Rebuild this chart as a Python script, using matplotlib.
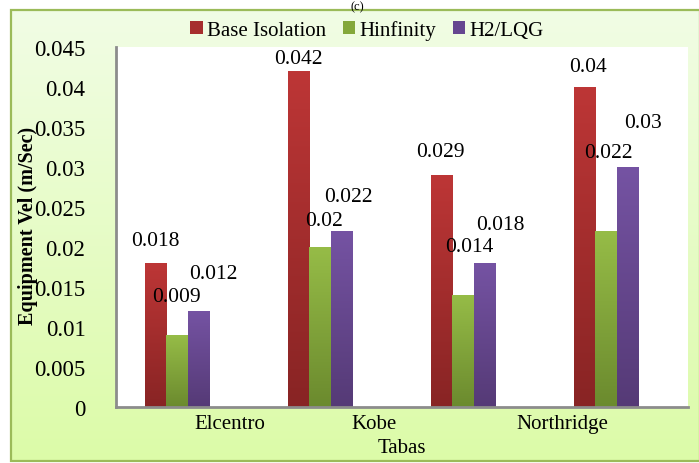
import numpy as np
import matplotlib
matplotlib.use("Agg")
import matplotlib.pyplot as plt
from matplotlib.patches import Patch, Rectangle
from matplotlib.colors import LinearSegmentedColormap

# ---- data ----
categories = ["Elcentro", "Kobe", "Tabas", "Northridge"]
series_names = ["Base Isolation", "Hinfinity", "H2/LQG"]
base_isolation = [0.018, 0.042, 0.029, 0.04]
hinfinity = [0.009, 0.02, 0.014, 0.022]
h2_lqg = [0.012, 0.022, 0.018, 0.03]
y_ticks = [0, 0.005, 0.01, 0.015, 0.02, 0.025, 0.03, 0.035, 0.04, 0.045]
y_tick_labels = ["0", "0.005", "0.01", "0.015", "0.02", "0.025", "0.03", "0.035", "0.04", "0.045"]

# ---- styles / positions ----
top_colors = ["#bd3636", "#96bc47", "#7553a3"]
bot_colors = ["#882424", "#6b8a2e", "#553a76"]
legend_colors = ["#a62e2e", "#84a83b", "#654690"]
# value-label offsets (pixels) relative to bar top center, per category per series
label_offsets = [
    [(0, 22), (0, 39), (15, 37)],
    [(0, 12), (4, 26), (7, 35)],
    [(-1, 23), (6, 48), (16, 39)],
    [(3, 21), (3, 78), (16, 45)],
]
cat_label_x = [0.297, 1.304, 1.50, 2.619]
cat_label_dy = [-17, -17, -41, -17]

plt.rcParams['font.family'] = ['Liberation Serif', 'DejaVu Serif']

W, H = 699, 464
fig = plt.figure(figsize=(W / 100, H / 100), dpi=100)
fig.patch.set_facecolor("white")

# background panel with gradient
bg = fig.add_axes([0, 0, 1, 1], zorder=-5)
bg.set_xlim(0, W)
bg.set_ylim(H, 0)
bg.axis("off")
bg_cmap = LinearSegmentedColormap.from_list("bg", ["#f1fde5", "#dcfba8"])
grad = np.linspace(0, 1, 256).reshape(-1, 1)
bg.imshow(grad, cmap=bg_cmap, extent=[11, W, H - 2, 11], aspect="auto", zorder=0)
bg.add_patch(Rectangle((11, 11), W - 10, H - 13, fill=False, edgecolor="#9bbb59", linewidth=1.6, zorder=2))
fig.text(357 / W, 1 - 1 / H, "(c)", ha="center", va="top", fontsize=9)

ax = fig.add_axes([116 / W, 1 - 408 / H, (688 - 116) / W, (408 - 48) / H])
ax.set_facecolor("white")

x = np.arange(len(categories))
w = 0.149
series = [base_isolation, hinfinity, h2_lqg]
offsets = [-1.5, -0.5, 0.5]
for si, vals in enumerate(series):
    cmap = LinearSegmentedColormap.from_list("c%d" % si, [bot_colors[si], top_colors[si]])
    bars = ax.bar(x + offsets[si] * w, vals, width=w, color=top_colors[si], linewidth=0, zorder=2)
    for ci, b in enumerate(bars):
        x0 = b.get_x()
        h = b.get_height()
        ax.imshow(grad, cmap=cmap, extent=[x0, x0 + w, 0, h], origin="lower",
                  aspect="auto", zorder=3)
        dx, dy = label_offsets[ci][si]
        ax.annotate(str(vals[ci]), xy=(x0 + w / 2, h), xytext=(dx, dy),
                    textcoords="offset pixels", ha="center", va="center",
                    fontsize=15.5, zorder=5)

ax.set_xlim(-0.5, len(categories) - 0.5)
ax.set_ylim(0, 0.045)
ax.set_yticks(y_ticks)
ax.set_yticklabels(y_tick_labels, fontsize=16.5)
ax.tick_params(axis="y", length=0, pad=22)
ax.set_xticks([])
for s in ["top", "right"]:
    ax.spines[s].set_visible(False)
for s in ["left", "bottom"]:
    ax.spines[s].set_color("#8c8c8c")
    ax.spines[s].set_linewidth(2)
    ax.spines[s].set_zorder(6)

for ci, cat in enumerate(categories):
    ax.annotate(cat, xy=(cat_label_x[ci], 0), xytext=(0, cat_label_dy[ci]),
                textcoords="offset pixels", ha="center", va="center",
                fontsize=15, annotation_clip=False)

fig.text(28 / W, 1 - 226 / H, "Equipment Vel (m/Sec)", rotation=90, ha="center",
         va="center", fontsize=14.5, fontweight="bold")

handles = [Patch(facecolor=c, edgecolor="none") for c in legend_colors]
fig.legend(handles, series_names, loc="center", bbox_to_anchor=(367 / W, 1 - 31 / H),
           ncol=3, frameon=False, fontsize=15, handlelength=0.6, handleheight=0.6,
           handletextpad=0.2, columnspacing=0.8, borderaxespad=0)

fig.savefig("out.png", dpi=100)
